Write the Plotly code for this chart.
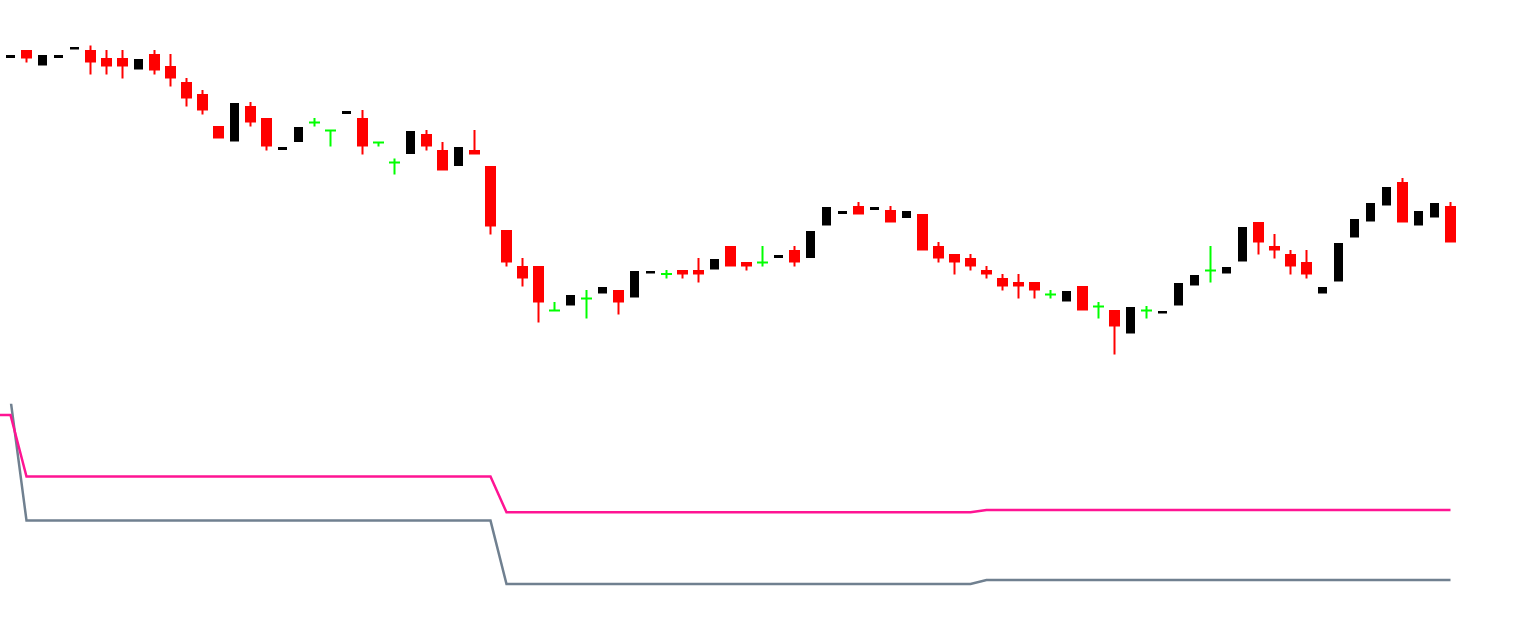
import numpy as np
import plotly.graph_objects as go

# ---- candle data (bar index, OHLC) ----
bar = list(range(91))

open_ = [171, 174.5, 167.25, 171, 175.25, 174.5, 170.5, 170.5, 165.25, 172.5,
         166.5, 158.5, 152.5, 136.5, 129.25, 146.5, 140.5, 125, 129, 138.75,
         134.75, 143, 140.5, 128.75, 118.75, 123, 132.5, 124.5, 117, 124.5,
         116.5, 84.5, 66.5, 66.5, 44.75, 47.25, 50.75, 53.25, 54.5, 51.25,
         63.25, 63, 64.5, 64.5, 65.25, 76.5, 68.5, 68.75, 71, 74.5,
         71, 87.25, 93, 96.5, 95, 94.5, 91, 92.5, 76.5, 72.5,
         70.5, 64.5, 60.5, 58.5, 58.5, 52.75, 49.25, 56.5, 46.75, 44.5,
         33.25, 44.75, 43.25, 47.25, 57.25, 64.75, 63.25, 69.25, 88.5, 76.5,
         72.5, 68.5, 53.25, 59.25, 81.25, 89.25, 97.25, 108.5, 87.25, 91.25,
         96.5]
high = [172.5, 174.5, 172.5, 172.5, 176.5, 177.25, 175, 175, 170.5, 175,
        173, 161, 155, 136.5, 148.5, 149, 140.5, 126.5, 136.5, 141,
        134.75, 144.5, 145, 128.75, 120.75, 134.5, 135, 129, 126.5, 135,
        116.5, 84.5, 71, 66.5, 49, 52.5, 55, 56.5, 54.5, 64.5,
        64.5, 65, 64.5, 71, 70.5, 76.5, 68.5, 77, 72.5, 77,
        84.5, 96.5, 94.5, 99, 96.5, 97, 94.5, 92.5, 79, 72.5,
        73, 67, 63, 63, 58.5, 55, 54.5, 56.5, 49, 44.5,
        46.5, 47, 44.5, 58.5, 62.5, 77, 66.5, 86.5, 88.5, 83,
        75, 75, 56.5, 78.5, 90.5, 98.5, 106.5, 111, 94.5, 98.5,
        99]
low = [171, 168.75, 167.25, 171, 175.25, 162.75, 162.75, 160.75, 165.25, 162.75,
       156.75, 146.75, 142.75, 131.25, 129.25, 136.75, 124.75, 125, 129, 136.75,
       126.75, 143, 122.75, 126.75, 112.75, 123, 124.75, 115.25, 117, 123.25,
       82.75, 66.75, 56.75, 38.75, 44.75, 47.25, 40.75, 53.25, 42.75, 51.25,
       63.25, 60.75, 60.75, 58.75, 65.25, 67.25, 64.75, 66.75, 71, 66.75,
       71, 87.25, 93, 93.25, 95, 89.25, 91, 75.25, 68.75, 62.75,
       64.75, 60.75, 54.75, 50.75, 50.75, 50.75, 49.25, 45.25, 40.75, 22.75,
       33.25, 40.75, 43.25, 47.25, 57.25, 58.75, 63.25, 69.25, 72.75, 70.75,
       62.75, 60.75, 53.25, 59.25, 81.25, 89.25, 97.25, 89.25, 87.25, 91.25,
       79.25]
close = [172.5, 171.25, 172.5, 172.5, 176.5, 169.25, 167.25, 167.25, 170.5, 165.25,
         161.25, 151.25, 145.25, 131.25, 148.5, 139.25, 127.25, 126.5, 136.5, 138.75,
         134.75, 144.5, 127.25, 128.75, 118.75, 134.5, 127.25, 115.25, 126.5, 123.25,
         87.25, 69.25, 61.25, 49.25, 44.75, 52.5, 50.75, 56.5, 49.25, 64.5,
         64.5, 63, 63.25, 63.25, 70.5, 67.25, 67.25, 68.75, 72.5, 69.25,
         84.5, 96.5, 94.5, 93.25, 96.5, 89.25, 94.5, 75.25, 71.25, 69.25,
         67.25, 63.25, 57.25, 57.25, 55.25, 52.75, 54.5, 45.25, 46.75, 37.25,
         46.5, 44.75, 44.5, 58.5, 62.5, 64.75, 66.5, 86.5, 79.25, 75.25,
         67.25, 63.25, 56.5, 78.5, 90.5, 98.5, 106.5, 89.25, 94.5, 98.5,
         79.25]

# ---- lower panel lines (one extra leading point before the first bar) ----
line_x = list(range(-1, 91))
pink_vals = [94.8, 94.8] + [66.5] * 30 + [50.0] * 30 + [51.1] * 30
gray_vals = [102.0, 102.0] + [46.2] * 30 + [17.0] * 30 + [18.9] * 30

o = np.array(open_); h = np.array(high); l = np.array(low); c = np.array(close)
x = np.array(bar)
up = c > o
dn = c < o
dj = c == o


def cs(mask, color, lw, body_eps=0.0):
    side = dict(line=dict(color=color, width=lw), fillcolor=color)
    # body_eps: a hair-thin body so that the doji stroke gets square (mitred) corners
    return go.Candlestick(x=x[mask], open=o[mask], high=h[mask], low=l[mask],
                          close=c[mask] + body_eps,
                          increasing=side, decreasing=side, whiskerwidth=0,
                          xaxis="x", yaxis="y", showlegend=False, hoverinfo="skip")


fig = go.Figure()
fig.add_trace(cs(up, "#000000", 0))
fig.add_trace(cs(dn, "#FF0000", 2))
fig.add_trace(cs(dj, "#00FF00", 2, body_eps=0.01))

fig.add_trace(go.Scatter(x=line_x, y=gray_vals, mode="lines", line=dict(color="#708090", width=2.5),
                         xaxis="x2", yaxis="y2", showlegend=False, hoverinfo="skip"))
fig.add_trace(go.Scatter(x=line_x, y=pink_vals, mode="lines", line=dict(color="#FF1493", width=2.5),
                         xaxis="x2", yaxis="y2", showlegend=False, hoverinfo="skip"))

xr = [-0.65625, 95.03125]
ax = dict(visible=False, showgrid=False, zeroline=False, showticklabels=False)
fig.update_layout(
    width=1531, height=621,
    margin=dict(l=0, r=0, t=0, b=0),
    paper_bgcolor="white", plot_bgcolor="white",
    showlegend=False,
    boxgap=0.25, boxgroupgap=0.25,
    xaxis=dict(**ax, range=xr, anchor="y", domain=[0, 1], rangeslider=dict(visible=False)),
    yaxis=dict(**ax, range=[13.7, 200], domain=[0.4, 1], anchor="x"),
    xaxis2=dict(**ax, range=xr, anchor="y2", domain=[0, 1]),
    yaxis2=dict(**ax, range=[0, 100], domain=[0, 0.35], anchor="x2"),
)

fig.write_html("out.html", config={"displayModeBar": False},
               post_script="document.body.style.margin='0';document.body.style.overflow='hidden';")
